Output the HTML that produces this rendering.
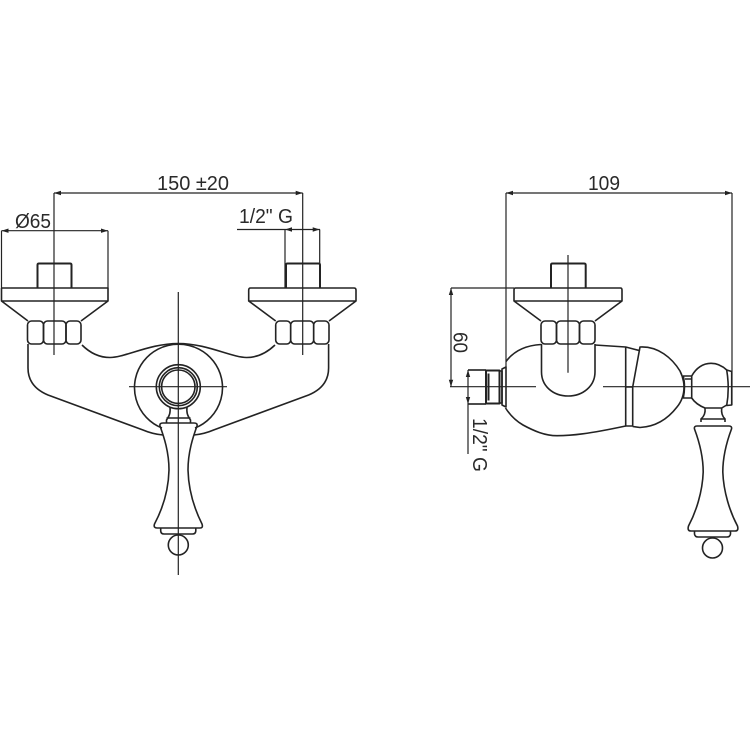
<!DOCTYPE html>
<html><head><meta charset="utf-8"><style>
html,body{margin:0;padding:0;background:#fff}svg{display:block}
text{font-family:"Liberation Sans",sans-serif;font-size:20px;fill:#2a2a2a}
.l{fill:none;stroke:#232323;stroke-width:1.6;stroke-linejoin:round}
.t{fill:none;stroke:#232323;stroke-width:1.2}
.a{fill:#232323}
</style></head><body>
<svg width="750" height="750" viewBox="0 0 750 750" xmlns="http://www.w3.org/2000/svg">
<rect width="750" height="750" fill="#fff"/>

<!-- LEFT VIEW: dimensions -->
<path class="t" d="M54 193H302.7M54 193V355M302.7 193V355M1.5 230.7H108M1.5 230.7V288M108 230.7V288M237 229.5H320M285 229.5V288M319.7 229.5V288"/>
<path class="a" d="M54 193l7-2.2v4.4zM302.7 193l-7-2.2v4.4zM1.5 230.7l7-2.2v4.4zM108 230.7l-7-2.2v4.4zM285 229.5l7-2.2v4.4zM319.7 229.5l-7-2.2v4.4z"/>
<text x="157" y="190" textLength="72" lengthAdjust="spacingAndGlyphs">150 ±20</text>
<text x="15" y="228" textLength="36" lengthAdjust="spacingAndGlyphs">Ø65</text>
<text x="239" y="223" textLength="54" lengthAdjust="spacingAndGlyphs">1/2" G</text>

<!-- LEFT VIEW: left connector -->
<path class="l" style="stroke-width:2" d="M37.5 288V265Q37.5 263.5 39 263.5H70Q71.5 263.5 71.5 265V288"/>
<path class="l" d="M1.5 288H108V301L81 321M28 321L1.5 301V288M1.5 301H108"/>
<rect class="l" x="27.5" y="321" width="16" height="23" rx="4"/>
<rect class="l" x="43.5" y="321" width="22.500" height="23" rx="4"/>
<rect class="l" x="66" y="321" width="15" height="23" rx="4"/>

<!-- LEFT VIEW: right connector -->
<path class="l" style="stroke-width:2" d="M286 288V265Q286 263.5 287.5 263.5H318.5Q320 263.5 320 265V288"/>
<path class="l" d="M275.7 321L248.7 301V290Q248.7 288 250.5 288H354Q356 288 356 290V301L329 321M248.7 301H356"/>
<rect class="l" x="275.7" y="321" width="15" height="23" rx="4"/>
<rect class="l" x="290.700" y="321" width="23" height="23" rx="4"/>
<rect class="l" x="313.700" y="321" width="15.300" height="23" rx="4"/>

<!-- LEFT VIEW: body -->
<path class="l" d="M28 344V368C28 382 36 390 48 395L143 430C150 433 157 434.500 163 435"/>
<path class="l" d="M328.600 344V368C328.600 382 320.600 390 308.600 395L213.600 430C206.600 433 199.600 434.500 194 435"/>
<path class="l" d="M82 345C90 353 99 357.500 110 357.500C125 357.500 150 343.500 178.300 343.500C206.600 343.500 231.600 357.500 246.600 357.500C257.600 357.500 266.600 353 275 345"/>
<path class="l" d="M162 428A44 43.500 0 1 1 195 428"/>
<circle class="l" cx="178.300" cy="386.700" r="22"/>
<circle class="l" cx="178.300" cy="386.700" r="19"/>
<circle class="l" cx="178.300" cy="386.700" r="16.700"/>
<path class="t" d="M129 386.700H227M178.300 292V575"/>

<!-- LEFT VIEW: handle -->
<path class="l" d="M170 407C170.500 412 170 415 166.500 420V423M187 407C186.500 412 187 415 190.500 420V423M166.500 418H190.500"/>
<path class="l" d="M163 423H194C196.500 423 197.500 424 197 426C193 437 188 452 188 470C188.500 490 194 508 202 524C203 527 202 528 200 528H157C155 528 153.500 527 154.500 524C163 508 168.500 490 169 470C169 452 164 437 160 426C159.500 424 160.500 423 163 423Z"/>
<path class="l" d="M160.700 528V531Q161 534 164 534H192.500Q195.500 534 195.800 531V528"/>
<circle class="l" cx="178.300" cy="545" r="10"/>

<!-- RIGHT VIEW: dimensions -->
<path class="t" d="M506 193H732M506 193V367M732 193V405M451 288H514M451 288V387M468 370H486M468 370V454M468 404H486M450 386.700H536M603 386.700H750M568 255V372.700"/>
<path class="a" d="M506 193l7-2.200v4.400zM732 193l-7-2.200v4.400zM451 288l-2.200 7h4.400zM451 386.700l-2.200-7h4.400zM468 370l-2.200 7h4.400zM468 404l-2.200-7h4.400z"/>
<text x="588" y="190" textLength="32" lengthAdjust="spacingAndGlyphs">109</text>
<text transform="translate(453.500 332) rotate(90)" textLength="21" lengthAdjust="spacingAndGlyphs">60</text>
<text transform="translate(473 418) rotate(90)" textLength="54" lengthAdjust="spacingAndGlyphs">1/2" G</text>

<!-- RIGHT VIEW: connector -->
<path class="l" style="stroke-width:2" d="M551 288V265Q551 263.500 552.500 263.500H584Q585.700 263.500 585.700 265V288"/>
<path class="l" d="M541 321L514 301V290Q514 288 515.500 288H620.500Q622 288 622 290V301L595 321M514 301H622"/>
<rect class="l" x="541" y="321" width="15.500" height="23" rx="4"/>
<rect class="l" x="556.500" y="321" width="23" height="23" rx="4"/>
<rect class="l" x="579.500" y="321" width="15.500" height="23" rx="4"/>

<!-- RIGHT VIEW: inlet -->
<path class="l" d="M468 370H486M468 404H486"/>
<path class="l" style="stroke-width:2" d="M486 370.500H499.500V403.500H486ZM488.500 373.500V400.500"/>
<path class="l" d="M499.500 371H502V403H499.500"/>
<path class="l" d="M502 369L506 367V407L502 405Z"/>

<!-- RIGHT VIEW: body -->
<path class="l" d="M506 361.500C513 352 524 345.500 541 344.500M505.500 408C510 415 516 421 523 425C534 431 545 435.700 557 435.700C572 435.700 588 434 625.700 426"/>
<path class="l" d="M595 345L618 346.500L625.700 347L640 350.700"/>
<path class="l" d="M541.500 344V372C541.500 386 553 396 568.200 396C583 396 595 386 595 372V344"/>
<path class="l" d="M625.700 347V426H632.700V387L640 347C658 346 672 358 680 371C683 377 684 382 684 387C684 395 682 401 677 407C667 420 655 426.700 640 427.500L632.700 426.500M625.700 387H632.700"/>

<!-- RIGHT VIEW: knob side -->
<path class="l" d="M683.300 376H691.700V398H683.300C685 390 685 384 683.300 376ZM685 379H691.700"/>
<path class="l" d="M691.700 376C696 368 703 363.300 711 363.300C717 363.300 722 365.500 726.700 370M691.700 398C695 403 700 406 705 408H721.700L726.700 405"/>
<path class="l" d="M726.700 370L731.700 371.500V405L726.700 405.500C728.700 394 728.700 382 726.700 370Z"/>
<path class="l" d="M705 408C705.500 412 704.500 416 701 419V422M721.700 408C721.200 412 722 416 725 419V422M701 419H725"/>
<path class="l" d="M697 426H729C731 426 732 427 731.500 429C727 441 722.800 455 722.800 472C723.500 492 730 512 737.500 526C738.500 529.500 737.500 531 735 531H691C688.500 531 687.500 529.500 688.500 526C696 512 702.500 492 703.200 472C703.200 455 699 441 694.500 429C694 427 695 426 697 426Z"/>
<path class="l" d="M694.500 531V534Q695 537 698 537H727Q730 537 730.500 534V531"/>
<circle class="l" cx="712.500" cy="548" r="10"/>
</svg>
</body></html>
